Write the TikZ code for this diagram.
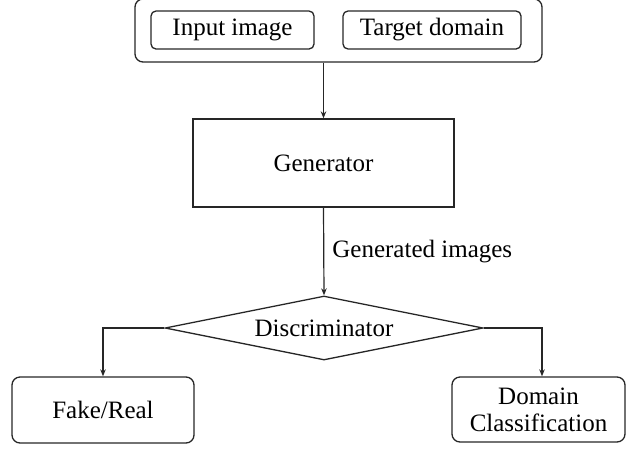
\documentclass[tikz,border=0pt]{standalone}
\usepackage{fontspec}
\setmainfont{Liberation Serif}
\usetikzlibrary{arrows.meta,shapes.geometric}

\begin{document}
\begin{tikzpicture}[x=1pt,y=-1pt,
  every node/.style={font=\fontsize{25}{28}\selectfont, inner sep=0pt},
  boxline/.style={draw=black!85, line width=1.3pt},
  roundbox/.style={boxline, rounded corners=8pt},
  smallround/.style={boxline, rounded corners=5pt},
  plainbox/.style={boxline},
  choice/.style={boxline, diamond, shape aspect=5},
  flow/.style={draw=black!85, line width=1.2pt, -{Stealth[length=7pt,width=5.5pt]}}
]
  \useasboundingbox (0,0) rectangle (626,448);

  % input group
  \node[roundbox, minimum width=407pt, minimum height=63pt] (inputs) at (338.5,30.5) {};
  \node[smallround, minimum width=163pt, minimum height=38pt] (img) at (232.5,30) {Input image};
  \node[smallround, minimum width=178pt, minimum height=38pt] (dom0) at (432,30) {Target domain};

  % generator
  \node[plainbox, minimum width=261pt, minimum height=88pt] (gen) at (323.5,163) {Generator};

  % discriminator
  \node[choice, minimum width=318pt, minimum height=64pt] (disc) at (324,328) {Discriminator};

  % outputs
  \node[roundbox, minimum width=182pt, minimum height=66pt] (fake) at (103,410) {Fake/Real};
  \node[roundbox, minimum width=173pt, minimum height=65pt, align=center] (cls) at (538.5,409.5)
    {Domain\\[-1pt]Classification};

  % connectors
  \draw[flow] (inputs.south -| gen.north) -- (gen.north);
  \draw[flow] (gen.south) -- node[pos=0.57, anchor=base west, xshift=8pt] (lbl) {Generated images} (disc.north);
  \draw[flow] (disc.west) -| (fake.north);
  \coordinate (clsin) at ([xshift=3.5pt]cls.north);
  \draw[flow] (disc.east) -| (clsin);
\end{tikzpicture}
\end{document}
